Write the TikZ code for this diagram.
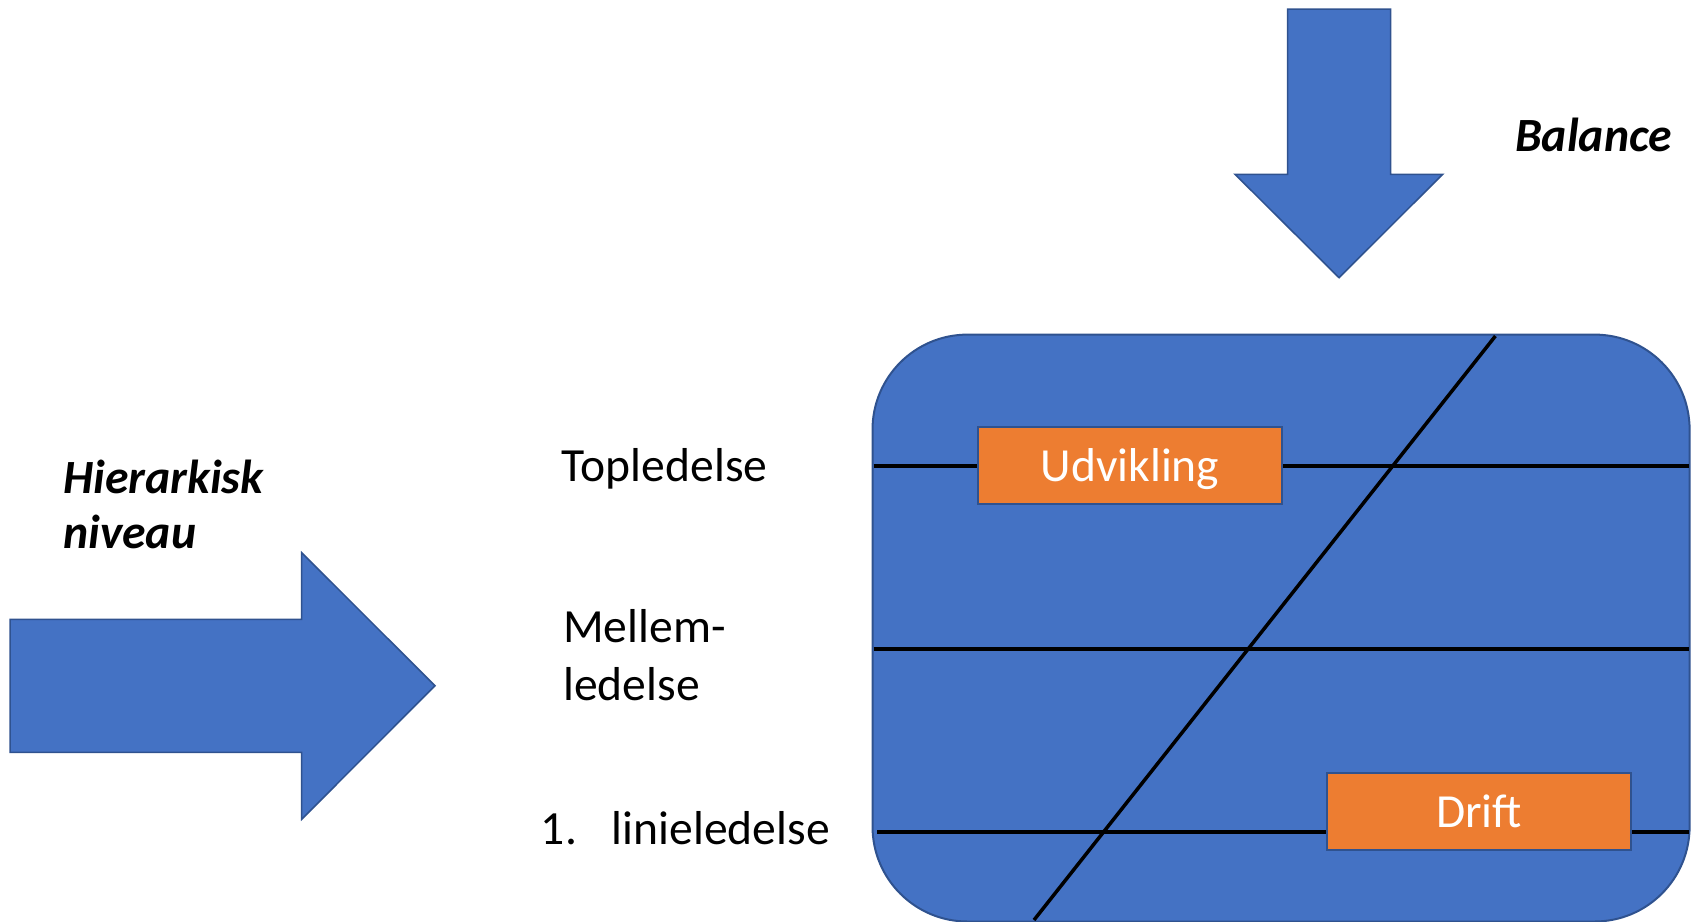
\documentclass[tikz,border=0pt]{standalone}
\usepackage{fontspec}
\setmainfont{Carlito}
\definecolor{fillblue}{HTML}{4472C4}
\definecolor{edgeblue}{HTML}{2F528F}
\definecolor{boxorange}{HTML}{ED7D31}
\begin{document}
\begin{tikzpicture}[x=1pt,y=-1pt,
  bigarrow/.style={fill=fillblue,draw=edgeblue,line width=1.5pt,line join=miter},
  panel/.style={fill=fillblue,draw=edgeblue,line width=2pt},
  level/.style={draw=black,line width=4pt},
  tag/.style={fill=boxorange,draw=edgeblue,line width=2pt,minimum width=304pt,minimum height=77pt,inner sep=0pt,
    text height=32pt,text depth=0pt,text=white,font=\fontsize{47.5}{56}\selectfont},
  lbl/.style={anchor=base west,inner sep=0pt,font=\fontsize{47.6}{56}\selectfont},
  hlbl/.style={anchor=base west,inner sep=0pt,font=\fontsize{47.7}{56}\selectfont\bfseries\itshape}]
\useasboundingbox (0,0) rectangle (1691,921);
% arrows
\draw[bigarrow] (10,619.3) -- (301.7,619.3) -- (301.7,552.7) -- (435,685.7) -- (301.7,819.3) -- (301.7,752.3) -- (10,752.3) -- cycle;
\draw[bigarrow] (1287.7,9) -- (1390.7,9) -- (1390.7,174.3) -- (1442.7,174.3) -- (1339,277.7) -- (1235,174.3) -- (1287.7,174.3) -- cycle;
% panel
\draw[panel,rounded corners=95pt] (872.5,334.6) rectangle (1689.6,921.5);
\coordinate (l1a) at (873.5,465.6); \coordinate (l1b) at (1689,465.6);
\coordinate (l2a) at (873.5,648.9); \coordinate (l2b) at (1689,648.9);
\coordinate (l3a) at (877,832);   \coordinate (l3b) at (1689,832);
\coordinate (da) at (1495.4,336); \coordinate (db) at (1034,920);
\draw[level] (l1a) -- (l1b);
\draw[level] (l2a) -- (l2b);
\draw[level] (l3a) -- (l3b);
\draw[draw=black,line width=3.5pt] (da) -- (db);
\node[tag] (udv) at (1130,465.3) {Udvikling};
\node[tag] (drift) at (1479,811.4) {Drift};
% labels
\node[lbl] (top) at (561.7,481) {Topledelse};
\node[lbl] (mel1) at (563,642.8) {Mellem-};
\node[lbl] (mel2) at (563,700.3) {ledelse};
\node[lbl] (lin) at (540.7,844.7) {\makebox[71pt][l]{1.}linieledelse};
\node[hlbl] (bal) at (1515,151.7) {Balance};
\node[hlbl] (hier1) at (63,493.3) {Hierarkisk};
\node[hlbl] (hier2) at (63,548.3) {niveau};
\end{tikzpicture}
\end{document}
